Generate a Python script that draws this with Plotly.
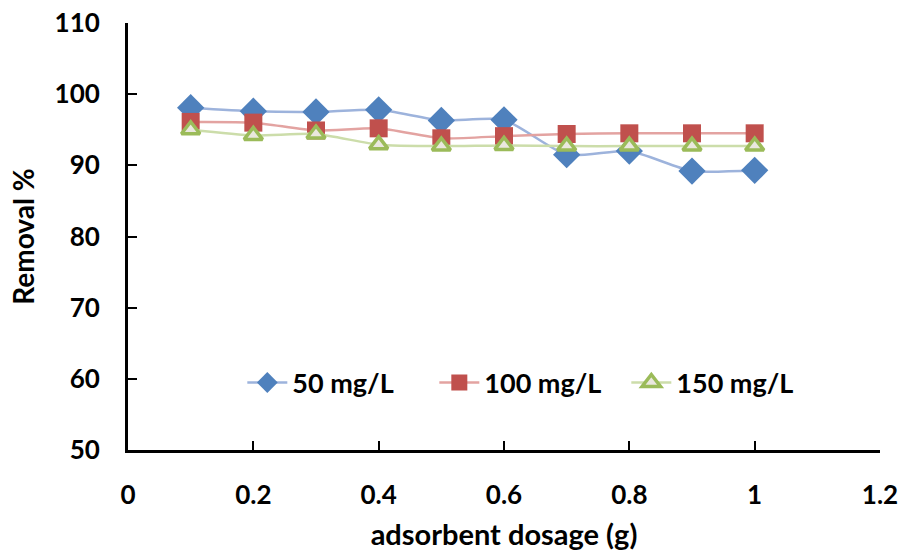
import plotly.graph_objects as go

dosage = [0.1, 0.2, 0.3, 0.4, 0.5, 0.6, 0.7, 0.8, 0.9, 1.0]
removal_50 = [98.1, 97.6, 97.5, 97.8, 96.3, 96.4, 91.5, 92.0, 89.2, 89.3]
removal_100 = [96.1, 96.0, 94.9, 95.2, 93.8, 94.1, 94.4, 94.5, 94.5, 94.5]
removal_150 = [95.0, 94.2, 94.4, 92.9, 92.7, 92.8, 92.7, 92.7, 92.7, 92.7]
series_names = ["50 mg/L", "100 mg/L", "150 mg/L"]
x_ticks = [0, 0.2, 0.4, 0.6, 0.8, 1, 1.2]
y_ticks = [50, 60, 70, 80, 90, 100, 110]

FONT = "Lato"
W = "bold"

fig = go.Figure()
fig.add_trace(go.Scatter(
    x=dosage, y=removal_50, name=series_names[0], mode="lines+markers",
    line=dict(color="#9DB3DC", width=2.5, shape="spline", smoothing=0.6),
    marker=dict(symbol="diamond", size=21, color="#4F81BD", line=dict(width=0)),
))
fig.add_trace(go.Scatter(
    x=dosage, y=removal_100, name=series_names[1], mode="lines+markers",
    line=dict(color="#E3A3A1", width=2.5, shape="spline", smoothing=0.6),
    marker=dict(symbol="square", size=18, color="#C0504D", line=dict(width=0)),
))
fig.add_trace(go.Scatter(
    x=dosage, y=removal_150, name=series_names[2], mode="lines+markers",
    line=dict(color="#CCDDAA", width=2.5, shape="spline", smoothing=0.6),
    marker=dict(symbol="triangle-up", size=16, color="#EAE8DE",
                line=dict(width=3.5, color="#9BBB59")),
))

axis_common = dict(
    showline=True, linecolor="black", linewidth=3,
    ticks="inside", ticklen=9, tickwidth=2, tickcolor="black",
    showgrid=False, zeroline=False, automargin=False,
    tickfont=dict(family=FONT, size=26, color="black", weight=W),
)

fig.update_layout(
    width=904, height=554,
    margin=dict(l=128, r=24, t=23, b=104),
    paper_bgcolor="white", plot_bgcolor="white",
    font=dict(family=FONT, color="black"),
    xaxis=dict(range=[0, 1.2], tickvals=x_ticks, ticktext=[str(v) for v in x_ticks],
               ticklabelstandoff=20,
               title=dict(text="adsorbent dosage (g)", standoff=16,
                          font=dict(family=FONT, size=29, color="black", weight=W)),
               **axis_common),
    yaxis=dict(range=[50, 110], tickvals=y_ticks, ticklabelstandoff=20,
               title=dict(text="Removal %", standoff=12,
                          font=dict(family=FONT, size=28, color="black", weight=W)),
               **axis_common),
    legend=dict(orientation="h", x=0.535, y=0.157, xanchor="center", yanchor="middle",
                font=dict(family=FONT, size=27, color="black", weight=W),
                bgcolor="rgba(0,0,0,0)", itemwidth=40, tracegroupgap=0,
                entrywidth=137, entrywidthmode="pixels"),
    showlegend=True,
)

fig.write_html("out.html")
